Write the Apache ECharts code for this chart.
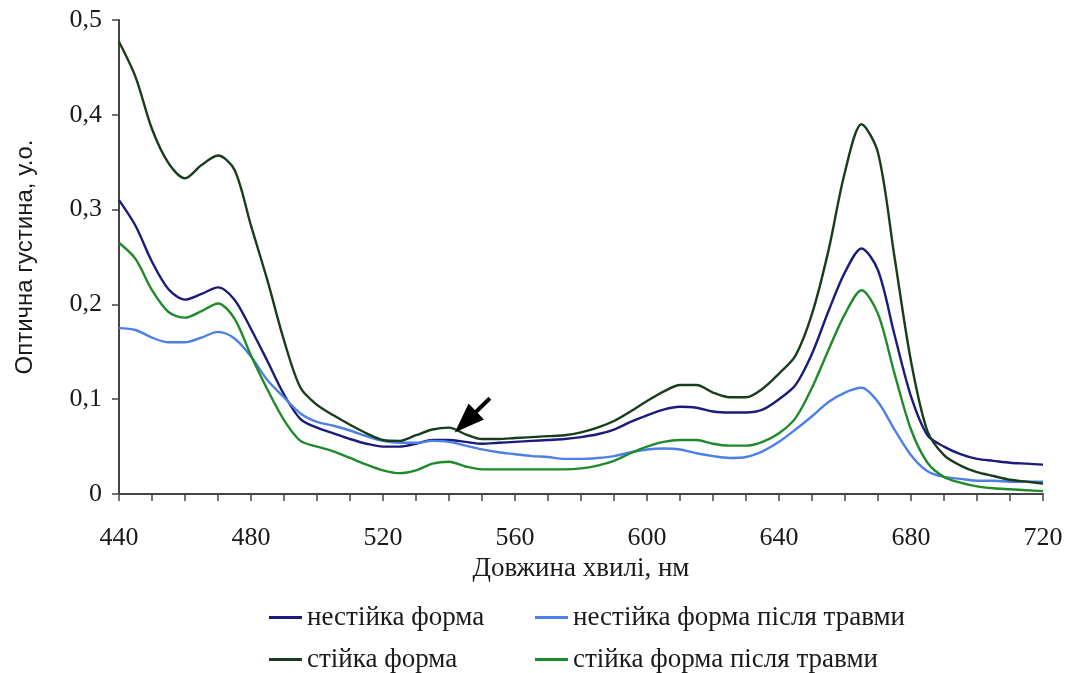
<!DOCTYPE html>
<html>
<head>
<meta charset="utf-8">
<script src="https://cdn.jsdelivr.net/npm/echarts@6/dist/echarts.min.js"></script>
<style>html,body{margin:0;padding:0;background:#fff}#c{width:1071px;height:673px}</style>
</head>
<body>
<div id="c"></div>
<script>
// Wavelengths (nm), every 5 nm from 440 to 720
const wavelengths = [440,445,450,455,460,465,470,475,480,485,490,495,500,505,510,515,520,525,530,535,540,545,550,555,560,565,570,575,580,585,590,595,600,605,610,615,620,625,630,635,640,645,650,655,660,665,670,675,680,685,690,695,700,705,710,715,720];

const unstable = [0.31,0.283,0.245,0.216,0.205,0.211,0.218,0.205,0.174,0.14,0.105,0.079,0.07,0.064,0.058,0.053,0.05,0.05,0.053,0.057,0.057,0.055,0.053,0.054,0.055,0.056,0.057,0.058,0.06,0.063,0.068,0.076,0.083,0.089,0.092,0.091,0.087,0.086,0.086,0.089,0.1,0.115,0.148,0.193,0.234,0.259,0.236,0.168,0.103,0.062,0.05,0.042,0.037,0.035,0.033,0.032,0.031];

const unstableInjury = [0.175,0.173,0.165,0.16,0.16,0.165,0.171,0.164,0.145,0.12,0.102,0.085,0.076,0.072,0.067,0.061,0.056,0.054,0.054,0.056,0.055,0.051,0.047,0.044,0.042,0.04,0.039,0.037,0.037,0.038,0.04,0.044,0.047,0.048,0.047,0.043,0.04,0.038,0.039,0.045,0.055,0.068,0.082,0.097,0.107,0.112,0.097,0.068,0.041,0.024,0.018,0.016,0.014,0.014,0.013,0.013,0.013];

const stable = [0.477,0.44,0.385,0.349,0.333,0.347,0.357,0.342,0.283,0.225,0.162,0.112,0.094,0.083,0.073,0.064,0.057,0.056,0.062,0.068,0.07,0.063,0.058,0.058,0.059,0.06,0.061,0.062,0.065,0.07,0.077,0.087,0.098,0.108,0.115,0.115,0.107,0.102,0.102,0.111,0.127,0.146,0.19,0.257,0.34,0.39,0.36,0.25,0.14,0.066,0.041,0.03,0.023,0.019,0.015,0.013,0.011];

const stableInjury = [0.265,0.248,0.215,0.192,0.186,0.193,0.201,0.185,0.146,0.11,0.078,0.056,0.05,0.045,0.038,0.031,0.025,0.022,0.025,0.032,0.034,0.029,0.026,0.026,0.026,0.026,0.026,0.026,0.027,0.03,0.035,0.043,0.05,0.055,0.057,0.057,0.053,0.051,0.051,0.055,0.064,0.08,0.112,0.152,0.19,0.215,0.19,0.127,0.068,0.033,0.018,0.012,0.008,0.006,0.005,0.004,0.003];

const seriesNames = ['нестійка форма','нестійка форма після травми','стійка форма','стійка форма після травми'];
const seriesColors = ['#1b1b7d','#4d80e6','#173d1c','#1f8a2a'];
const seriesData = [unstable, unstableInjury, stable, stableInjury];

// Arrow annotation (nm, value): tail -> head centre
const arrowTail = [552.4, 0.101];
const arrowTip = [545.0, 0.076];

const serif = '"Liberation Serif", "DejaVu Serif", serif';
const sans = '"Liberation Sans", Arial, sans-serif';
const textColor = '#1a1a1a';

const series = seriesNames.map((name, i) => ({
  name: name,
  type: 'line',
  data: wavelengths.map((w, j) => [w, seriesData[i][j]]),
  showSymbol: false,
  symbol: 'none',
  smooth: 0.3,
  lineStyle: { color: seriesColors[i], width: 2.4 },
  itemStyle: { color: seriesColors[i] },
  z: 3,
  animation: false
}));

series[2].markLine = {
  silent: true,
  animation: false,
  symbol: ['none', 'triangle'],
  symbolSize: [22, 30],
  label: { show: false },
  lineStyle: { color: '#000', width: 4, type: 'solid' },
  itemStyle: { color: '#000' },
  data: [[{ coord: arrowTail }, { coord: arrowTip }]]
};

const legendBase = {
  orient: 'vertical',
  top: 604,
  height: 120,
  itemGap: 15,
  itemWidth: 33, itemHeight: 3,
  icon: 'rect',
  padding: 0,
  textStyle: { fontFamily: serif, fontSize: 27, color: textColor },
  selectedMode: false
};

const chart = echarts.init(document.getElementById('c'));
chart.setOption({
  backgroundColor: '#fff',
  animation: false,
  grid: { left: 119, right: 28, top: 20, bottom: 179 },
  xAxis: {
    type: 'value',
    min: 440, max: 720, interval: 10,
    name: 'Довжина хвилі, нм',
    nameLocation: 'middle',
    nameGap: 58,
    nameTextStyle: { fontFamily: serif, fontSize: 27, color: textColor },
    axisLine: { lineStyle: { color: '#444', width: 2 } },
    axisTick: { show: true, inside: false, length: 7, lineStyle: { color: '#444', width: 1.5 } },
    axisLabel: {
      fontFamily: serif, fontSize: 26, color: textColor, margin: 31,
      formatter: v => (v % 40 === 0 ? String(v) : '')
    },
    splitLine: { show: false }
  },
  yAxis: {
    type: 'value',
    min: 0, max: 0.5, interval: 0.1,
    name: 'Оптична густина, у.о.',
    nameLocation: 'middle',
    nameGap: 82,
    nameRotate: 90,
    nameTextStyle: { fontFamily: sans, fontSize: 24, color: textColor },
    axisLine: { show: true, lineStyle: { color: '#444', width: 2 } },
    axisTick: { show: true, inside: false, length: 7, lineStyle: { color: '#444', width: 1.5 } },
    axisLabel: {
      fontFamily: serif, fontSize: 26, color: textColor, margin: 17,
      formatter: v => (v === 0 ? '0' : v.toFixed(1).replace('.', ','))
    },
    splitLine: { show: false }
  },
  legend: [
    Object.assign({}, legendBase, { data: [seriesNames[0], seriesNames[2]], left: 269 }),
    Object.assign({}, legendBase, { data: [seriesNames[1], seriesNames[3]], left: 535 })
  ],
  series: series
});
</script>
</body>
</html>
